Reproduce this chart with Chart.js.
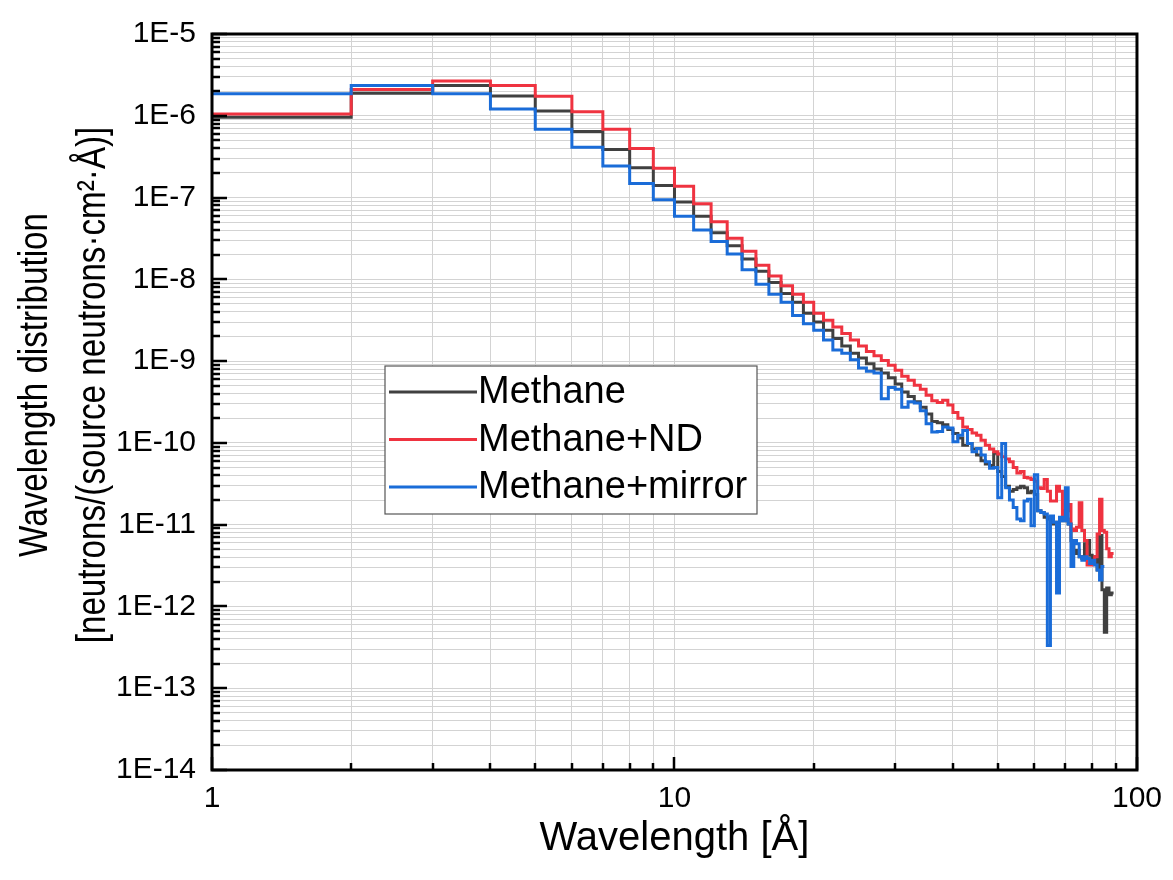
<!DOCTYPE html>
<html>
<head>
<meta charset="utf-8">
<title>Wavelength distribution</title>
<script src="https://cdn.jsdelivr.net/npm/chart.js@4.4.1/dist/chart.umd.min.js"></script>
<style>
    html, body { margin: 0; padding: 0; background: #fff; }
    #wrap { width: 1173px; height: 880px; }
</style>
</head>
<body>
<div id="wrap"><canvas id="spectrum" width="1173" height="880"></canvas></div>
<script>
// --- DATA: one value per 1 Å bin, first bin starts at 1 Å ---
const firstEdge = 1;
const methane = [
    9.6e-7, 1.89e-6, 2.34e-6, 1.74e-6, 1.14e-6, 6.41e-7, 3.86e-7, 2.32e-7, 1.40e-7, 8.81e-8,
    5.90e-8, 3.72e-8, 2.57e-8, 1.77e-8, 1.26e-8, 9.12e-9, 6.73e-9, 5.24e-9, 3.86e-9, 3.01e-9,
    2.39e-9, 1.89e-9, 1.53e-9, 1.25e-9, 1.09e-9, 9.31e-10, 8.02e-10, 7.16e-10, 6.24e-10, 5.24e-10,
    4.19e-10, 3.68e-10, 3.18e-10, 2.72e-10, 2.26e-10, 1.82e-10, 1.76e-10, 1.67e-10, 1.46e-10, 1.30e-10,
    1.15e-10, 9.38e-11, 9.82e-11, 8.39e-11, 7.11e-11, 6.03e-11, 5.50e-11, 5.28e-11, 7.45e-11, 4.48e-11,
    3.89e-11, 2.95e-11, 2.57e-11, 2.69e-11, 2.82e-11, 2.95e-11, 2.82e-11, 2.45e-11, 2.57e-11, 2.34e-11,
    1.48e-11, 1.41e-11, 1.23e-11, 1.17e-11, 1.02e-11, 1.07e-11, 9.31e-12, 1.17e-11, 1.12e-11, 1.17e-11,
    1.02e-11, 6.41e-12, 4.44e-12, 4.86e-12, 4.05e-12, 3.86e-12, 5.85e-12, 6.41e-12, 4.23e-12, 3.86e-12,
    4.05e-12, 2.79e-12, 7.36e-12, 1.60e-12, 4.82e-13, 1.68e-12, 1.39e-12, 1.46e-12
];
const methaneND = [
    1.05e-6, 2.10e-6, 2.67e-6, 2.34e-6, 1.73e-6, 1.12e-6, 6.85e-7, 3.97e-7, 2.28e-7, 1.37e-7,
    8.39e-8, 5.06e-8, 3.18e-8, 2.20e-8, 1.49e-8, 1.10e-8, 8.32e-9, 6.59e-9, 5.24e-9, 3.86e-9,
    3.16e-9, 2.62e-9, 2.17e-9, 1.81e-9, 1.53e-9, 1.31e-9, 1.16e-9, 1.02e-9, 8.87e-10, 7.73e-10,
    6.55e-10, 5.85e-10, 5.06e-10, 4.52e-10, 3.83e-10, 3.27e-10, 3.12e-10, 3.33e-10, 2.90e-10, 2.36e-10,
    2.00e-10, 1.56e-10, 1.46e-10, 1.32e-10, 1.24e-10, 1.08e-10, 9.38e-11, 8.39e-11, 7.80e-11, 7.31e-11,
    6.78e-11, 6.37e-11, 5.90e-11, 5.00e-11, 4.28e-11, 4.48e-11, 3.78e-11, 3.72e-11, 3.56e-11, 3.39e-11,
    2.82e-11, 2.77e-11, 3.56e-11, 2.57e-11, 1.95e-11, 1.95e-11, 2.95e-11, 2.57e-11, 1.28e-11, 1.48e-11,
    1.77e-11, 8.87e-12, 8.47e-12, 9.31e-12, 1.86e-11, 8.47e-12, 6.41e-12, 3.21e-12, 3.21e-12, 3.36e-12,
    4.05e-12, 7.71e-12, 2.04e-11, 8.47e-12, 8.09e-12, 5.09e-12, 4.05e-12, 4.44e-12
];
const methaneMirror = [
    1.86e-6, 2.34e-6, 1.86e-6, 1.21e-6, 6.85e-7, 4.11e-7, 2.43e-7, 1.49e-7, 9.38e-8, 5.90e-8,
    4.00e-8, 2.90e-8, 2.04e-8, 1.31e-8, 8.71e-9, 6.59e-9, 5.24e-9, 3.62e-9, 2.87e-9, 2.39e-9,
    1.81e-9, 1.37e-9, 1.25e-9, 1.04e-9, 8.24e-10, 7.52e-10, 7.16e-10, 3.46e-10, 4.76e-10, 4.52e-10,
    2.72e-10, 3.18e-10, 3.07e-10, 2.48e-10, 1.71e-10, 1.36e-10, 1.38e-10, 1.56e-10, 1.52e-10, 1.03e-10,
    1.24e-10, 1.42e-10, 9.82e-11, 7.80e-11, 8.55e-11, 7.11e-11, 5.90e-11, 4.91e-11, 5.00e-11, 2.14e-11,
    9.82e-11, 2.82e-11, 2.00e-11, 1.62e-11, 1.17e-11, 1.12e-11, 1.95e-11, 2.04e-11, 9.73e-12, 4.08e-11,
    1.48e-11, 1.41e-11, 1.35e-11, 3.33e-13, 1.28e-11, 1.07e-11, 1.46e-12, 1.23e-11, 1.12e-11, 2.82e-11,
    1.02e-11, 3.07e-12, 6.41e-12, 5.85e-12, 4.05e-12, 3.68e-12, 4.05e-12, 3.86e-12, 3.36e-12, 3.68e-12,
    3.21e-12, 2.79e-12, 2.11e-12, 3.07e-12
];
const seriesNames = ['Methane', 'Methane+ND', 'Methane+mirror'];
const seriesColors = ['#404040', '#ef3340', '#1a6cd8'];

// --- AXIS TICKS & TITLES ---
const xMajorValues = [1, 10, 100];
const xTickLabels = ['1', '10', '100'];
const yMajorExponents = [-14, -13, -12, -11, -10, -9, -8, -7, -6, -5];
const yTickLabels = ['1E-14', '1E-13', '1E-12', '1E-11', '1E-10', '1E-9', '1E-8', '1E-7', '1E-6', '1E-5'];
const xTitle = 'Wavelength [Å]';
const yTitleLines = ['Wavelength distribution', '[neutrons/(source neutrons·cm²·Å)]'];

// --- HELPERS ---
// histogram bins -> points at bin edges, last value repeated at the closing edge
function toSteps(values) {
    const pts = values.map((v, i) => ({ x: firstEdge + i, y: v }));
    pts.push({ x: firstEdge + values.length, y: values[values.length - 1] });
    return pts;
}

// 1..9 x 10^n grid for a log axis
function logGrid(min, max) {
    const out = [];
    for (let e = Math.round(Math.log10(min)); e < Math.round(Math.log10(max)); e++) {
        for (let m = 1; m <= 9; m++) out.push({ value: m * Math.pow(10, e) });
    }
    out.push({ value: max });
    return out;
}

function isDecade(v) {
    const l = Math.log10(v);
    return Math.abs(l - Math.round(l)) < 1e-9;
}

// --- PLUGINS ---
const axisFrame = {
    id: 'axisFrame',
    afterDatasetsDraw(chart) {
        const { ctx, chartArea: a, scales: { x, y } } = chart;
        ctx.save();
        ctx.strokeStyle = '#000';
        ctx.lineWidth = 2.5;
        ctx.beginPath();
        y.ticks.forEach(t => {
            const py = Math.round(y.getPixelForValue(t.value));
            const len = isDecade(t.value) ? 15 : 8;
            ctx.moveTo(a.left, py); ctx.lineTo(a.left + len, py);
        });
        x.ticks.forEach(t => {
            const px = Math.round(x.getPixelForValue(t.value));
            const len = isDecade(t.value) ? 13 : 7;
            ctx.moveTo(px, a.bottom); ctx.lineTo(px, a.bottom - len);
        });
        ctx.stroke();
        ctx.lineWidth = 3;
        ctx.strokeRect(a.left, a.top, a.right - a.left, a.bottom - a.top);
        ctx.restore();
    }
};

// rotated, slightly condensed two-line y title
const yAxisTitle = {
    id: 'yAxisTitle',
    afterDraw(chart) {
        const ctx = chart.ctx;
        const cy = 385;
        const lineX = [36, 94];
        ctx.save();
        ctx.fillStyle = '#000';
        ctx.font = '40px "Liberation Sans", Arial, sans-serif';
        ctx.textAlign = 'center';
        ctx.textBaseline = 'middle';
        yTitleLines.forEach((txt, i) => {
            ctx.save();
            ctx.translate(lineX[i], cy);
            ctx.rotate(-Math.PI / 2);
            ctx.scale(0.83, 1);
            ctx.fillText(txt, 0, 0);
            ctx.restore();
        });
        ctx.restore();
    }
};

const legendBox = {
    id: 'legendBox',
    afterDatasetsDraw(chart) {
        const ctx = chart.ctx;
        const bx = 385, by = 366, bw = 372, bh = 148;
        ctx.save();
        ctx.fillStyle = '#fff';
        ctx.fillRect(bx, by, bw, bh);
        ctx.strokeStyle = '#555';
        ctx.lineWidth = 1.2;
        ctx.strokeRect(bx, by, bw, bh);
        ctx.font = '38px "Liberation Sans", Arial, sans-serif';
        ctx.textBaseline = 'middle';
        ctx.fillStyle = '#000';
        seriesNames.forEach((name, i) => {
            const ly = 392 + i * 47.5;
            ctx.strokeStyle = seriesColors[i];
            ctx.lineWidth = 3;
            ctx.beginPath();
            ctx.moveTo(389, ly); ctx.lineTo(477, ly);
            ctx.stroke();
            ctx.fillText(name, 478, ly + 1);
        });
        ctx.restore();
    }
};

// --- CHART ---
const seriesData = [methane, methaneND, methaneMirror];
const datasets = seriesData.map((vals, i) => ({
    label: seriesNames[i],
    data: toSteps(vals),
    borderColor: seriesColors[i],
    borderWidth: 3,
    stepped: 'before',
    pointRadius: 0,
    fill: false,
    order: seriesData.length - i
}));

const tickFont = { family: '"Liberation Sans", Arial, sans-serif', size: 30 };

new Chart(document.getElementById('spectrum'), {
    type: 'line',
    data: { datasets },
    options: {
        responsive: false,
        animation: false,
        layout: { padding: { top: 23, right: 36, left: 0, bottom: 0 } },
        plugins: { legend: { display: false }, tooltip: { enabled: false } },
        scales: {
            x: {
                type: 'logarithmic',
                position: 'bottom',
                min: 1, max: 100,
                afterBuildTicks: scale => { scale.ticks = logGrid(1, 100); },
                afterFit: scale => { scale.height = 110; },
                grid: { color: '#d3d3d3', lineWidth: 1, drawTicks: false },
                border: { display: false },
                ticks: {
                    autoSkip: false, maxRotation: 0, padding: 11,
                    color: '#000', font: tickFont,
                    callback: value => {
                        const i = xMajorValues.findIndex(v => Math.abs(Math.log10(v) - Math.log10(value)) < 1e-9);
                        return i >= 0 ? xTickLabels[i] : '';
                    }
                },
                title: {
                    display: true,
                    text: xTitle,
                    color: '#000',
                    font: { family: '"Liberation Sans", Arial, sans-serif', size: 40, lineHeight: 1.2 },
                    padding: { top: 0, bottom: 17 }
                }
            },
            y: {
                type: 'logarithmic',
                min: 1e-14, max: 1e-5,
                afterBuildTicks: scale => { scale.ticks = logGrid(1e-14, 1e-5); },
                afterFit: scale => { scale.width = 212; },
                grid: { color: '#d3d3d3', lineWidth: 1, drawTicks: false },
                border: { display: false },
                ticks: {
                    autoSkip: false, padding: 16,
                    color: '#000', font: tickFont,
                    callback: value => {
                        const i = yMajorExponents.findIndex(e => Math.abs(e - Math.log10(value)) < 1e-9);
                        return i >= 0 ? yTickLabels[i] : '';
                    }
                },
                title: { display: false }
            }
        }
    },
    plugins: [axisFrame, legendBox, yAxisTitle]
});
</script>
</body>
</html>
